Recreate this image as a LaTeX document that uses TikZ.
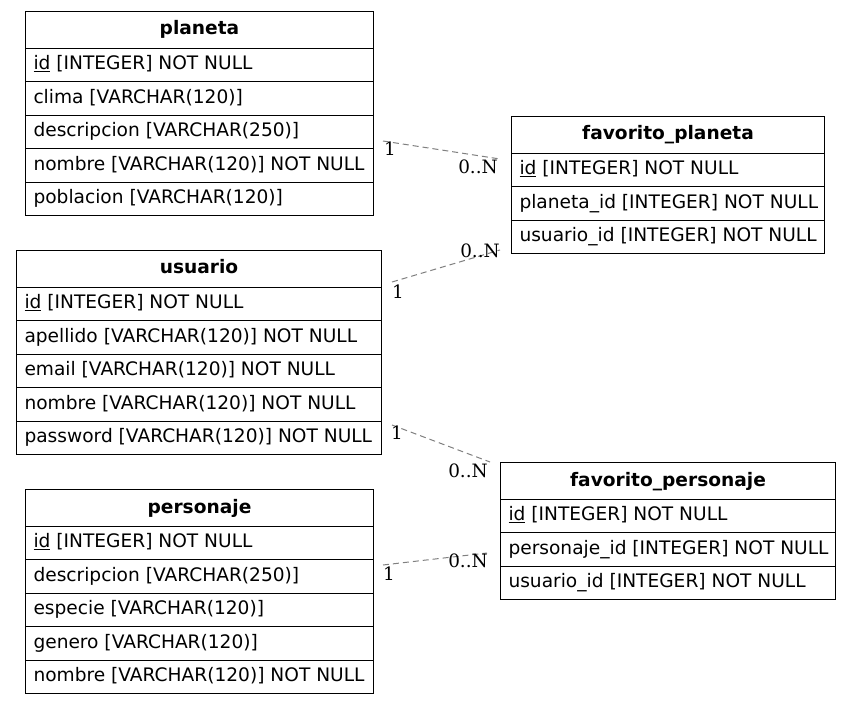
\documentclass[tikz,border=0pt]{standalone}
\usepackage{fontspec}
\setmainfont{DejaVu Sans}
\newfontfamily\lblfont{DejaVu Serif}
\newcommand\hdr[5]{\node[head, minimum width=#4pt] (#1) at (#2,#3) {#5};}
\newcommand\fld[5]{\node[cell, minimum width=#4pt] (#1) at (#2,#3) {\makebox[\dimexpr#4pt-16pt\relax][l]{#5}};}
\begin{document}
\begin{tikzpicture}[x=1pt,y=-1pt,
  head/.style={draw, line width=1pt, anchor=north west, inner sep=0pt, minimum height=37pt, text height=14pt, text depth=4pt, font=\fontsize{18.6}{22}\selectfont\bfseries},
  cell/.style={draw, line width=1pt, anchor=north west, inner xsep=8pt, inner ysep=0pt, minimum height=33.4pt, text height=14pt, text depth=4.6pt, font=\fontsize{18.6}{22}\selectfont},
  rel/.style={draw=gray, line width=1pt, dash pattern=on 6pt off 4pt},
  card/.style={inner sep=0pt, font=\fontsize{18.4}{22}\selectfont\lblfont}]
\fill[white] (0,0) rectangle (851,703);
\useasboundingbox (0,0) rectangle (851,703);
% planeta
\hdr{pl}{25}{11}{348}{planeta}
\fld{pl1}{25}{48}{348}{\underline{id} [INTEGER] NOT NULL}
\fld{pl2}{25}{81.4}{348}{clima [VARCHAR(120)]}
\fld{pl3}{25}{114.8}{348}{descripcion [VARCHAR(250)]}
\fld{pl4}{25}{148.2}{348}{nombre [VARCHAR(120)] NOT NULL}
\fld{pl5}{25}{181.6}{348}{poblacion [VARCHAR(120)]}
% favorito_planeta
\hdr{fp}{511}{116}{313}{favorito\_planeta}
\fld{fp1}{511}{153}{313}{\underline{id} [INTEGER] NOT NULL}
\fld{fp2}{511}{186.4}{313}{planeta\_id [INTEGER] NOT NULL}
\fld{fp3}{511}{219.8}{313}{usuario\_id [INTEGER] NOT NULL}
% usuario
\hdr{us}{16}{250}{365}{usuario}
\fld{us1}{16}{287}{365}{\underline{id} [INTEGER] NOT NULL}
\fld{us2}{16}{320.4}{365}{apellido [VARCHAR(120)] NOT NULL}
\fld{us3}{16}{353.8}{365}{email [VARCHAR(120)] NOT NULL}
\fld{us4}{16}{387.2}{365}{nombre [VARCHAR(120)] NOT NULL}
\fld{us5}{16}{420.6}{365}{password [VARCHAR(120)] NOT NULL}
% favorito_personaje
\hdr{fr}{500}{462}{335}{favorito\_personaje}
\fld{fr1}{500}{499}{335}{\underline{id} [INTEGER] NOT NULL}
\fld{fr2}{500}{532.4}{335}{personaje\_id [INTEGER] NOT NULL}
\fld{fr3}{500}{565.8}{335}{usuario\_id [INTEGER] NOT NULL}
% personaje
\hdr{pe}{25}{489}{348}{personaje}
\fld{pe1}{25}{526}{348}{\underline{id} [INTEGER] NOT NULL}
\fld{pe2}{25}{559.4}{348}{descripcion [VARCHAR(250)]}
\fld{pe3}{25}{592.8}{348}{especie [VARCHAR(120)]}
\fld{pe4}{25}{626.2}{348}{genero [VARCHAR(120)]}
\fld{pe5}{25}{659.6}{348}{nombre [VARCHAR(120)] NOT NULL}
% connector ends
\coordinate (a1) at (383,141);   \coordinate (b1) at (500,159);
\coordinate (a2) at (392,282);   \coordinate (b2) at (500,250);
\coordinate (a3) at (392,425);   \coordinate (b3) at (490,462);
\coordinate (a4) at (383,565);   \coordinate (b4) at (487,553);
\draw[rel] (a1) -- (b1);
\draw[rel] (a2) -- (b2);
\draw[rel] (a3) -- (b3);
\draw[rel] (a4) -- (b4);
\node[card] (l1a) at (390,149) {1};
\node[card] (l1b) at (478,167) {0..N};
\node[card] (l2a) at (398,292) {1};
\node[card] (l2b) at (480,251) {0..N};
\node[card] (l3a) at (397,433) {1};
\node[card] (l3b) at (468,471) {0..N};
\node[card] (l4a) at (389,574) {1};
\node[card] (l4b) at (468,561) {0..N};
\end{tikzpicture}
\end{document}
